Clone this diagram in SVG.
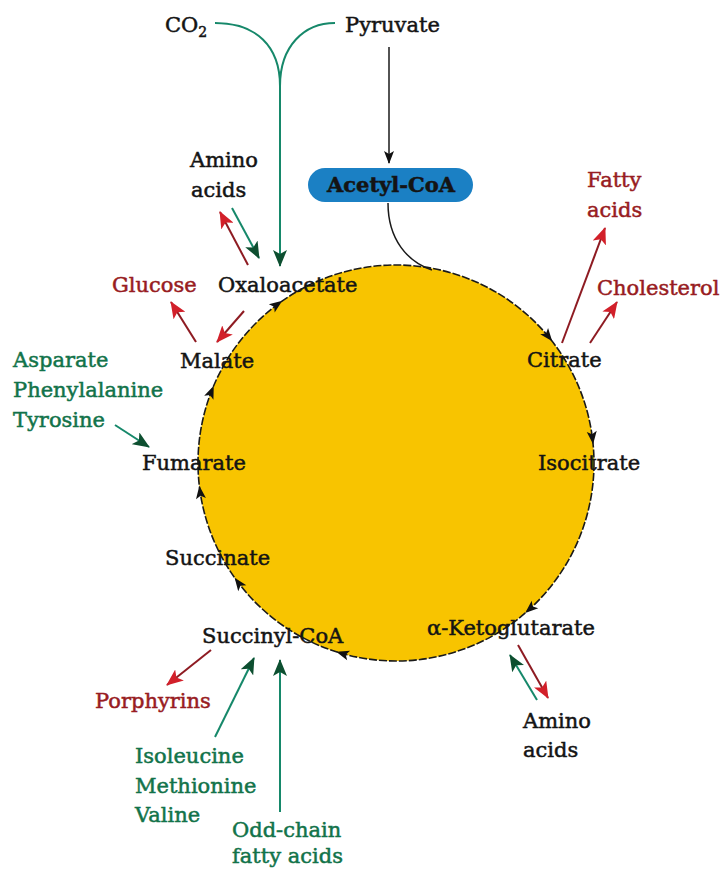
<svg xmlns="http://www.w3.org/2000/svg" width="724" height="870" viewBox="0 0 724 870">
  <style>
    text { font-family: "DejaVu Serif", "Liberation Serif", serif; font-size: 21px; stroke-width: 0.5; }
    .blk { fill: #141414; stroke: #141414; }
    .red { fill: #981c22; stroke: #981c22; }
    .grn { fill: #12734a; stroke: #12734a; }
    .rl { stroke: #8e1b22; stroke-width: 2; fill: none; }
    .gl { stroke: #16886a; stroke-width: 2; fill: none; }
    .kl { stroke: #1a1a1a; stroke-width: 1.5; fill: none; }
    .cyc { fill: #111; }
  </style>
  <defs>
    <marker id="hr" markerUnits="userSpaceOnUse" markerWidth="18" markerHeight="14" refX="16" refY="7" orient="auto">
      <path d="M0,0 L17,7 L0,14 L4,7 Z" fill="#d2202a"/>
    </marker>
    <marker id="hg" markerUnits="userSpaceOnUse" markerWidth="18" markerHeight="14" refX="16" refY="7" orient="auto">
      <path d="M0,0 L17,7 L0,14 L4,7 Z" fill="#0d4f30"/>
    </marker>
    <marker id="hk" markerUnits="userSpaceOnUse" markerWidth="14" markerHeight="10" refX="12" refY="5" orient="auto">
      <path d="M0,0 L13,5 L0,10 L3,5 Z" fill="#111"/>
    </marker>
    <path id="tip" d="M2,0 L-11,-5 L-8,0 L-11,5 Z"/>
  </defs>

  <!-- citric acid cycle disc -->
  <g id="cycle">
    <circle cx="396" cy="463" r="198" fill="#f8c400" stroke="#1a1a1a" stroke-width="1.6" stroke-dasharray="8 2"/>
    <use href="#tip" class="cyc" transform="translate(280.7,302) rotate(-35.6)"/>
    <use href="#tip" class="cyc" transform="translate(551,339.7) rotate(51.5)"/>
    <use href="#tip" class="cyc" transform="translate(592.9,442.3) rotate(84)"/>
    <use href="#tip" class="cyc" transform="translate(526.7,611.8) rotate(138.7)"/>
    <use href="#tip" class="cyc" transform="translate(338.1,652.3) rotate(197)"/>
    <use href="#tip" class="cyc" transform="translate(235.8,579.4) rotate(234)"/>
    <use href="#tip" class="cyc" transform="translate(199.6,487.8) rotate(262.8)"/>
    <use href="#tip" class="cyc" transform="translate(213,387.6) rotate(292.4)"/>
  </g>

  <!-- connectors -->
  <g id="connectors">
    <path class="gl" d="M215,23 C256,23 280,46 280,86"/>
    <path class="gl" d="M335,23 C304,23 280,46 280,86 L280,266" marker-end="url(#hg)"/>
    <path class="kl" d="M389,47 L389,163" marker-end="url(#hk)"/>
    <path class="kl" d="M388,203 C388,240 408,262 432,270"/>
    <!-- oxaloacetate exchanges -->
    <path class="rl" d="M248,265 L220,212" marker-end="url(#hr)"/>
    <path class="gl" d="M232,208 L259,258" marker-end="url(#hg)"/>
    <path class="rl" d="M244,311 L217,342" marker-end="url(#hr)"/>
    <path class="rl" d="M196,342 L171,302" marker-end="url(#hr)"/>
    <path class="gl" d="M115,425 L149,447" marker-end="url(#hg)"/>
    <!-- citrate exits -->
    <path class="rl" d="M562,343 L605,228" marker-end="url(#hr)"/>
    <path class="rl" d="M590,343 L617,302" marker-end="url(#hr)"/>
    <!-- alpha-ketoglutarate exchanges -->
    <path class="gl" d="M537,700 L510,655" marker-end="url(#hg)"/>
    <path class="rl" d="M518,645 L548,698" marker-end="url(#hr)"/>
    <!-- succinyl-CoA exchanges -->
    <path class="rl" d="M211,650 L167,685" marker-end="url(#hr)"/>
    <path class="gl" d="M215,737 L254,658" marker-end="url(#hg)"/>
    <path class="gl" d="M280,812 L280,660" marker-end="url(#hg)"/>
  </g>

  <g id="acetylcoa">
    <rect x="308" y="168" width="165" height="34" rx="17" fill="#1b80c4"/>
    <text x="391" y="192" text-anchor="middle" class="blk" font-weight="bold" font-size="20">Acetyl-CoA</text>
  </g>

  <g id="co2"><text x="165" y="32" class="blk">CO<tspan font-size="14" dy="5">2</tspan></text></g>
  <g id="pyruvate"><text x="345" y="32" class="blk">Pyruvate</text></g>
  <g id="aminoacids-top"><text class="blk"><tspan x="190" y="167">Amino</tspan><tspan x="191" y="197">acids</tspan></text></g>
  <g id="glucose"><text x="112" y="292" class="red">Glucose</text></g>
  <g id="oxaloacetate"><text x="218" y="292" class="blk">Oxaloacetate</text></g>
  <g id="fattyacids"><text class="red"><tspan x="587" y="187">Fatty</tspan><tspan x="587" y="217">acids</tspan></text></g>
  <g id="cholesterol"><text x="597" y="295" class="red">Cholesterol</text></g>
  <g id="citrate"><text x="527" y="367" class="blk">Citrate</text></g>
  <g id="malate"><text x="180" y="368" class="blk">Malate</text></g>
  <g id="aromatic"><text class="grn"><tspan x="13" y="367">Asparate</tspan><tspan x="13" y="397">Phenylalanine</tspan><tspan x="13" y="427">Tyrosine</tspan></text></g>
  <g id="fumarate"><text x="142" y="470" class="blk">Fumarate</text></g>
  <g id="isocitrate"><text x="538" y="470" class="blk">Isocitrate</text></g>
  <g id="succinate"><text x="165" y="565" class="blk">Succinate</text></g>
  <g id="succinylcoa"><text x="202" y="643" class="blk">Succinyl-CoA</text></g>
  <g id="ketoglutarate"><text x="427" y="635" class="blk">α-Ketoglutarate</text></g>
  <g id="porphyrins"><text x="95" y="708" class="red">Porphyrins</text></g>
  <g id="aminoacids-bottom"><text class="blk"><tspan x="523" y="728">Amino</tspan><tspan x="523" y="757">acids</tspan></text></g>
  <g id="branched"><text class="grn"><tspan x="135" y="763">Isoleucine</tspan><tspan x="135" y="793">Methionine</tspan><tspan x="135" y="822">Valine</tspan></text></g>
  <g id="oddchain"><text class="grn"><tspan x="232" y="837">Odd-chain</tspan><tspan x="232" y="863">fatty acids</tspan></text></g>
</svg>
